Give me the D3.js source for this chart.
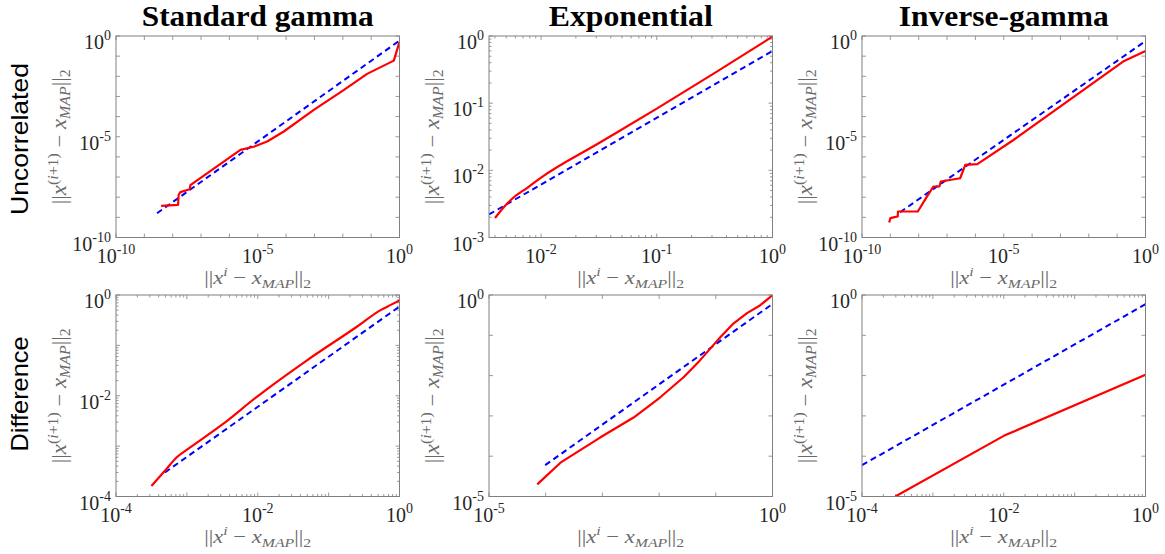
<!DOCTYPE html>
<html>
<head>
<meta charset="utf-8">
<script src="https://cdn.jsdelivr.net/npm/d3@7"></script>
<style>
  html, body { margin: 0; padding: 0; background: #fff; }
  svg { display: block; }
</style>
</head>
<body>
<svg id="chart" width="1165" height="554"></svg>
<script>
// ---------------- DATA ----------------
const columnTitles = ["Standard gamma", "Exponential", "Inverse-gamma"];
const rowTitles = ["Uncorrelated", "Difference"];

// Standard gamma, uncorrelated  [x, y]
const sgUncRed = [[3.9e-9,3.7e-9],[1.55e-8,4.2e-9],[1.62e-8,1.32e-8],[1.86e-8,1.78e-8],[4.0e-8,2.5e-8],[4.2e-8,4.0e-8],
  [2.45e-6,2.24e-6],[7.2e-6,3.2e-6],[2.14e-5,5.8e-6],[8.3e-5,1.82e-5],[9.5e-4,2.14e-4],[1.1e-2,2.1e-3],
  [7.2e-2,1.32e-2],[0.63,6.0e-2],[1.0,0.52]];
const sgUncBlue = [[2.8e-9,1.6e-9],[1.0,0.59]];

// Exponential, uncorrelated
const exUncRed = [[4.0e-3,1.95e-3],[4.7e-3,2.75e-3],[5.75e-3,3.9e-3],[7.6e-3,5.5e-3],[1.0e-2,7.8e-3],
  [3.2e-2,2.57e-2],[0.1,8.3e-2],[0.32,0.285],[1.0,0.98]];
const exUncBlue = [[3.55e-3,2.2e-3],[1.0,0.6]];

// Inverse-gamma, uncorrelated
const igUncRed = [[9.1e-10,5.5e-10],[1.0e-9,9.1e-10],[1.41e-9,1.02e-9],[1.82e-9,1.1e-9],[1.86e-9,1.95e-9],
  [9.3e-9,1.95e-9],[1.95e-8,1.07e-8],[3.3e-8,3.4e-8],[5.4e-8,3.4e-8],[6.0e-8,6.0e-8],[2.9e-7,8.7e-8],
  [4.4e-7,4.0e-7],[1.17e-6,4.4e-7],[2.2e-5,6.9e-6],[0.162,0.054],[1.0,0.18]];
const igUncBlue = [[2.2e-9,1.8e-9],[1.0,0.56]];

// Standard gamma, difference
const sgDifRed = [[3.16e-4,1.62e-4],[4.9e-4,3.24e-4],[7.2e-4,6.0e-4],[1.1e-3,9.3e-4],[3.24e-3,2.75e-3],
  [9.5e-3,9.3e-3],[4.9e-2,5.0e-2],[0.25,0.234],[0.54,0.50],[0.74,0.63],[1.0,0.78]];
const sgDifBlue = [[4.9e-4,3.0e-4],[1.0,0.59]];

// Exponential, difference
const exDifRed = [[7.1e-5,2.0e-5],[1.82e-4,6.9e-5],[9.1e-4,2.9e-4],[3.55e-3,9.1e-4],[1.05e-2,2.9e-3],
  [2.7e-2,9.1e-3],[5.2e-2,2.35e-2],[7.9e-2,4.6e-2],[0.12,0.089],[0.204,0.195],[0.355,0.355],
  [0.60,0.55],[0.91,0.89],[1.0,1.0]];
const exDifBlue = [[9.8e-5,6.0e-5],[1.0,0.6]];

// Inverse-gamma, difference
const igDifRed = [[2.95e-4,1.0e-5],[1.0e-2,3.2e-4],[1.0,1.05e-2]];
const igDifBlue = [[1.0e-4,6.0e-5],[1.0,0.59]];

// axis domains and labelled ticks
const xDomains = [[1e-10,1],[3.55e-3,1],[1e-10,1],[1e-4,1],[1e-5,1],[1e-4,1]];
const yDomains = [[1e-10,1],[1e-3,1],[1e-10,1],[1e-4,1],[1e-5,1],[1e-5,1]];
const xTickLabels = [[1e-10,1e-5,1],[1e-2,1e-1,1],[1e-10,1e-5,1],[1e-4,1e-2,1],[1e-5,1],[1e-4,1e-2,1]];
const yTickLabels = [[1e-10,1e-5,1],[1e-3,1e-2,1e-1,1],[1e-10,1e-5,1],[1e-4,1e-2,1],[1e-5,1],[1e-5,1]];

const redSeries = [sgUncRed, exUncRed, igUncRed, sgDifRed, exDifRed, igDifRed];
const blueSeries = [sgUncBlue, exUncBlue, igUncBlue, sgDifBlue, exDifBlue, igDifBlue];
const smoothRed = [false, true, false, true, false, false];

// ---------------- LAYOUT ----------------
const svg = d3.select("#chart");
const colLeft = [116, 489, 862];
const rowTop = [36, 295];
const pw = 283.5, ph = 201.5;
const serif = "'Liberation Serif','Times New Roman',Times,serif";
const sans = "'Liberation Sans',Arial,Helvetica,sans-serif";
const boxColor = "#808080";
const tickTextColor = "#262626";
const labelColor = "#6a6a6a";

const defs = svg.append("defs");

function rich(textSel, segs, baseSize) {
  let shift = 0;
  segs.forEach(s => {
    const target = s.pos === "sup" ? -8 : s.pos === "sub" ? 4 : 0;
    const t = textSel.append("tspan").text(s.t)
      .attr("dy", target - shift)
      .attr("font-size", s.pos ? baseSize * 0.7 : baseSize);
    if (s.it) t.attr("font-style", "italic");
    shift = target;
  });
}

const xLabelSegs = [{t:"||"},{t:"x",it:1},{t:"i",it:1,pos:"sup"},{t:" \u2212 "},{t:"x",it:1},{t:"MAP",it:1,pos:"sub"},{t:"||"},{t:"2",pos:"sub"}];
const yLabelSegs = [{t:"||"},{t:"x",it:1},{t:"(",pos:"sup"},{t:"i",it:1,pos:"sup"},{t:"+1)",pos:"sup"},{t:" \u2212 "},{t:"x",it:1},{t:"MAP",it:1,pos:"sub"},{t:"||"},{t:"2",pos:"sub"}];

function expOf(v) { return Math.round(Math.log10(v)); }

function addPow(sel, v) {
  sel.append("tspan").text("10");
  sel.append("tspan").text(String(expOf(v))).attr("font-size", 14).attr("dy", -9);
}

for (let i = 0; i < 6; i++) {
  const r = Math.floor(i / 3), c = i % 3;
  const left = colLeft[c], top = rowTop[r];
  const g = svg.append("g").attr("transform", `translate(${left},${top})`);
  const x = d3.scaleLog().domain(xDomains[i]).range([0, pw]);
  const y = d3.scaleLog().domain(yDomains[i]).range([ph, 0]);

  function tickVals(dom) {
    const lo = Math.log10(dom[0]), hi = Math.log10(dom[1]);
    const decades = hi - lo;
    const out = [];
    for (let e = Math.floor(lo); e <= Math.ceil(hi); e++) {
      const mults = decades <= 4.01 ? [1,2,3,4,5,6,7,8,9] : [1];
      mults.forEach(m => {
        const v = m * Math.pow(10, e);
        if (v >= dom[0] * 0.999 && v <= dom[1] * 1.001) out.push({v, major: m === 1});
      });
    }
    return out;
  }
  const tkx = tickVals(xDomains[i]), tky = tickVals(yDomains[i]);
  const tickG = g.append("g").attr("stroke", boxColor).attr("stroke-width", 0.8);
  tkx.forEach(t => {
    const len = t.major ? 4 : 2.5, px = x(t.v);
    tickG.append("line").attr("x1", px).attr("x2", px).attr("y1", ph).attr("y2", ph - len);
    tickG.append("line").attr("x1", px).attr("x2", px).attr("y1", 0).attr("y2", len);
  });
  tky.forEach(t => {
    const len = t.major ? 4 : 2.5, py = y(t.v);
    tickG.append("line").attr("y1", py).attr("y2", py).attr("x1", 0).attr("x2", len);
    tickG.append("line").attr("y1", py).attr("y2", py).attr("x1", pw).attr("x2", pw - len);
  });

  const cid = "clip" + i;
  defs.append("clipPath").attr("id", cid).append("rect").attr("width", pw).attr("height", ph);
  const line = d3.line().x(d => x(d[0])).y(d => y(d[1]));
  const redLine = d3.line().x(d => x(d[0])).y(d => y(d[1]))
    .curve(smoothRed[i] ? d3.curveMonotoneX : d3.curveLinear);
  const lg = g.append("g").attr("clip-path", `url(#${cid})`);
  lg.append("path").datum(blueSeries[i]).attr("d", line).attr("fill", "none")
    .attr("stroke", "#0000ff").attr("stroke-width", 2).attr("stroke-dasharray", "6,4");
  lg.append("path").datum(redSeries[i]).attr("d", redLine).attr("fill", "none")
    .attr("stroke", "#ff0000").attr("stroke-width", 2.2).attr("stroke-linejoin", "round");

  g.append("rect").attr("width", pw).attr("height", ph).attr("fill", "none")
    .attr("stroke", boxColor).attr("stroke-width", 1);

  xTickLabels[i].forEach(v => {
    const t = g.append("text").attr("x", x(v)).attr("y", ph + 25).attr("text-anchor", "middle")
      .attr("font-family", serif).attr("font-size", 20).attr("fill", tickTextColor);
    addPow(t, v);
  });
  yTickLabels[i].forEach(v => {
    const t = g.append("text").attr("x", -5).attr("y", y(v) + 13).attr("text-anchor", "end")
      .attr("font-family", serif).attr("font-size", 20).attr("fill", tickTextColor);
    addPow(t, v);
  });

  const xl = g.append("text").attr("x", pw / 2).attr("y", ph + 46).attr("text-anchor", "middle")
    .attr("font-family", serif).attr("font-size", 19).attr("fill", labelColor)
    .attr("textLength", 107).attr("lengthAdjust", "spacingAndGlyphs");
  rich(xl, xLabelSegs, 19);
  const yl = g.append("text").attr("transform", `translate(-50,${ph / 2}) rotate(-90)`)
    .attr("text-anchor", "middle").attr("font-family", serif).attr("font-size", 20).attr("fill", labelColor)
    .attr("textLength", 135).attr("lengthAdjust", "spacingAndGlyphs");
  rich(yl, yLabelSegs, 20);
}

const titleWidths = [232, 164, 210];
columnTitles.forEach((t, c) => {
  svg.append("text").attr("x", colLeft[c] + pw / 2).attr("y", 26).attr("text-anchor", "middle")
    .attr("font-family", serif).attr("font-weight", "bold").attr("font-size", 29).attr("fill", "#000")
    .attr("textLength", titleWidths[c]).attr("lengthAdjust", "spacingAndGlyphs").text(t);
});

const rowCenters = [139, 394];
const rowLens = [152, 115];
rowTitles.forEach((t, r) => {
  svg.append("text").attr("transform", `translate(28,${rowCenters[r]}) rotate(-90)`)
    .attr("text-anchor", "middle").attr("font-family", sans).attr("font-size", 24).attr("fill", "#000")
    .attr("textLength", rowLens[r]).attr("lengthAdjust", "spacingAndGlyphs").text(t);
});
</script>
</body>
</html>
